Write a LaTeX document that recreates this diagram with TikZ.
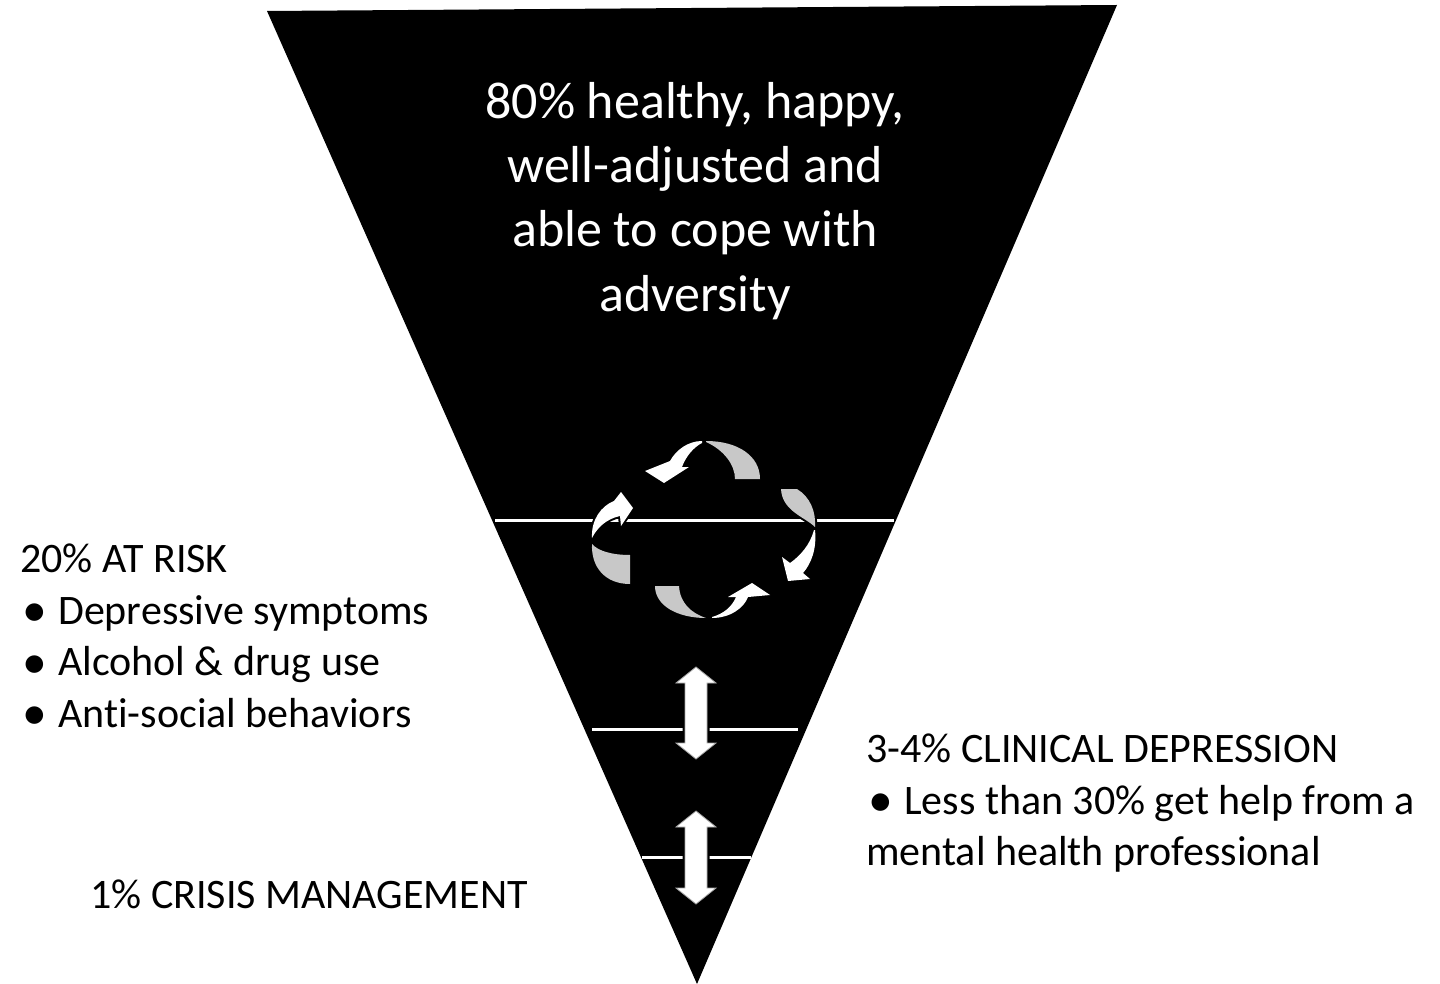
\documentclass[tikz,border=0pt]{standalone}
\usepackage{fontspec}
\setmainfont{Carlito}[Ligatures=NoCommon]
\usepackage{graphicx}
\usepackage{tikz}
\definecolor{backgrey}{RGB}{200,200,200}
\newcommand{\bulitem}{\makebox[38pt][l]{\hspace*{2pt}\raisebox{-2.5pt}{\scalebox{1.18}{•}}}}
\tikzset{
	txt/.style = {inner sep=0pt, anchor=north west, align=left, font=\fontsize{42}{51.5}\selectfont},
	band/.style = {white, line width=3pt},
	frontarrow/.style = {fill=white, preaction={draw=black, line width=4pt}},
	backarrow/.style = {fill=backgrey, preaction={draw=black, line width=4pt}},
	dblarrow/.style = {fill=white, draw=gray!70, line width=0.8pt, preaction={draw=black, line width=5pt}}
}

\begin{document}
\begin{tikzpicture}[x=1pt, y=-1pt]
	\useasboundingbox (0,0) rectangle (1440,984);
	\fill (267,11) -- (1117,5) -- (697,984) -- cycle;
	\draw[band] (495,520) -- (894,520);
	\draw[band] (592,729) -- (798,729);
	\draw[band] (642,857) -- (751,857);
	\node[white, inner sep=0pt, anchor=north, align=center, font=\fontsize{52}{64.3}\selectfont] (healthy) at (695,82) {80\% healthy, happy,\\well-adjusted and\\able to cope with\\adversity};
	\fill[backarrow] (706,441) .. controls (738,441) and (760,456) .. (760,479) -- (735,479) .. controls (735,465) and (724,450) .. (706,442) -- cycle;
	\fill[frontarrow] (702,441) .. controls (688,441) and (676,450) .. (670,461) -- (645,471) -- (664,483) -- (689,467) -- (682,467) .. controls (686,456) and (694,447) .. (702,443) -- cycle;
	\fill[backarrow] (592,544) .. controls (591,567) and (605,584) .. (630,584) -- (630,555) .. controls (612,555) and (598,551) .. (592,544) -- cycle;
	\fill[frontarrow] (592,538) .. controls (591,520) and (601,506) .. (614,501) -- (621,492) -- (633,508) -- (621,526) -- (620,516) .. controls (606,519) and (597,528) .. (592,538) -- cycle;
	\fill[backarrow] (781,489) -- (797,489) .. controls (810,497) and (816,511) .. (815,527) .. controls (805,517) and (782,511) .. (781,489) -- cycle;
	\fill[frontarrow] (815,530) .. controls (817,549) and (811,564) .. (803,573) -- (810,579) -- (788,581) -- (782,557) -- (790,563) .. controls (800,556) and (810,545) .. (814,530) -- cycle;
	\fill[backarrow] (655,586) -- (679,586) .. controls (680,603) and (691,613) .. (706,618) .. controls (678,618) and (655,606) .. (655,586) -- cycle;
	\fill[frontarrow] (712,618) .. controls (730,618) and (744,608) .. (748,597) -- (770,595) -- (752,583) -- (728,597) -- (736,597) .. controls (732,607) and (723,614) .. (712,617) -- cycle;
	\filldraw[dblarrow] (696,667) -- (716,683) -- (707,683) -- (707,743) -- (716,743) -- (696,759) -- (676,743) -- (685,743) -- (685,683) -- (676,683) -- cycle;
	\filldraw[dblarrow] (696,811) -- (716,827) -- (707,827) -- (707,888) -- (716,888) -- (696,904) -- (676,888) -- (685,888) -- (685,827) -- (676,827) -- cycle;
	\node[txt] (risk) at (20,544) {20\% AT RISK\\\bulitem Depressive symptoms\\\bulitem Alcohol \& drug use\\\bulitem Anti-social behaviors};
	\node[txt] (clinical) at (866,734) {3-4\% CLINICAL DEPRESSION\\\bulitem Less than 30\% get help from a\\mental health professional};
	\node[txt] (crisis) at (90,880) {1\% CRISIS MANAGEMENT};
\end{tikzpicture}
\end{document}
